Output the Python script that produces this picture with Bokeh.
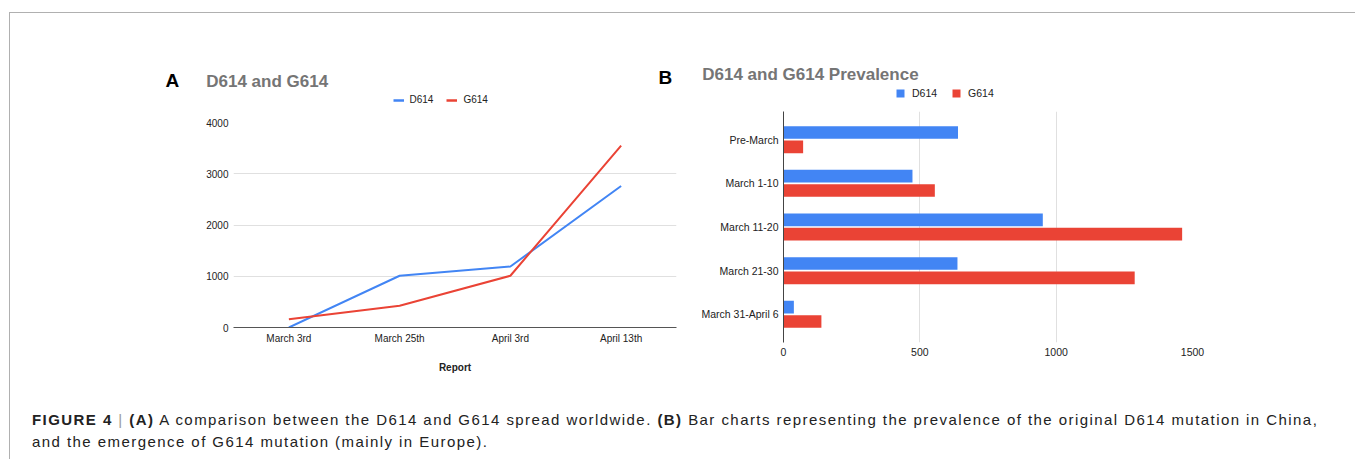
from bokeh.plotting import figure
from bokeh.models import (FactorRange, Range1d, FixedTicker, Legend, LegendItem,
                          Label, Div, ColumnDataSource)
from bokeh.layouts import column, row
from bokeh.transform import dodge
from bokeh.embed import file_html
from bokeh.resources import INLINE

# ---------------- data ----------------
reports = ["March 3rd", "March 25th", "April 3rd", "April 13th"]
d614_reports = [0, 1010, 1190, 2760]
g614_reports = [160, 425, 1010, 3550]

periods = ["Pre-March", "March 1-10", "March 11-20", "March 21-30", "March 31-April 6"]
d614_periods = [640, 473, 951, 638, 38]
g614_periods = [72, 555, 1462, 1288, 139]

series = ["D614", "G614"]
y_ticks_a = [0, 1000, 2000, 3000, 4000]
x_ticks_b = [0, 500, 1000, 1500]

BLUE = "#4285F4"
RED = "#EA4335"
FONT = "Liberation Sans"
GRID = "#e0e0e0"
LABEL = "#222222"
TITLE = "#757575"

WA, WB, HH, HC = 678, 666, 97, 288
WH = WA + WB

# ---------------- header (panel letters, titles, legends) ----------------
hd = figure(x_range=Range1d(0, WH), y_range=Range1d(0, HH), width=WH, height=HH,
            min_border=0, x_axis_location=None, y_axis_location=None, frame_align=False,
            output_backend="svg", toolbar_location=None, outline_line_color=None)
hd.xgrid.grid_line_color = None
hd.ygrid.grid_line_color = None


def label(x, y, text, size, color):
    hd.add_layout(Label(x=x, y=y, text=text, text_font=FONT, text_font_style="bold",
                        text_font_size=size, text_color=color, text_baseline="alphabetic"))


label(155, 30, "A", "19px", "#000000")
label(195.7, 29.3, "D614 and G614", "17px", TITLE)
label(648, 33, "B", "19px", "#000000")
label(691.7, 36, "D614 and G614 Prevalence", "17px", TITLE)

# legend proxies (hidden, only used for the legend swatches)
src_a = ColumnDataSource(dict(report=reports, d=d614_reports, g=g614_reports))
src_b = ColumnDataSource(dict(period=periods, d=d614_periods, g=g614_periods))
px_d = hd.line(x="d", y="g", source=src_a, color=BLUE, line_width=2.5, visible=False)
px_g = hd.line(x="d", y="g", source=src_a, color=RED, line_width=2.5, visible=False)
pq_d = hd.rect(x="d", y="g", width=1, height=1, source=src_b, fill_color=BLUE,
               line_color=None, visible=False)
pq_g = hd.rect(x="d", y="g", width=1, height=1, source=src_b, fill_color=RED,
               line_color=None, visible=False)

common = dict(orientation="horizontal", padding=0, margin=0, label_text_font=FONT,
              label_text_color=LABEL, border_line_color=None, background_fill_alpha=0)
hd.add_layout(Legend(items=[LegendItem(label=series[0], renderers=[px_d]),
                            LegendItem(label=series[1], renderers=[px_g])],
                     location=(382.5, 4.3), spacing=13, label_standoff=6, glyph_width=11,
                     glyph_height=12, label_height=12, label_text_font_size="10px", **common))
hd.add_layout(Legend(items=[LegendItem(label=series[0], renderers=[pq_d]),
                            LegendItem(label=series[1], renderers=[pq_g])],
                     location=(885, 10.7), spacing=14, label_standoff=7, glyph_width=10,
                     glyph_height=10, label_height=10, label_text_font_size="10.5px", **common))

# ---------------- chart A ----------------
pa = figure(x_range=FactorRange(factors=reports), y_range=Range1d(0, 4000),
            width=WA, height=HC, frame_width=443, frame_height=205, frame_align=False,
            min_border_left=223, min_border_right=12, min_border_top=12, min_border_bottom=71,
            output_backend="svg", toolbar_location=None, outline_line_color=None)
pa.line("report", "d", source=src_a, color=BLUE, line_width=2)
pa.line("report", "g", source=src_a, color=RED, line_width=2)

pa.yaxis.ticker = FixedTicker(ticks=y_ticks_a)
pa.ygrid.ticker = FixedTicker(ticks=y_ticks_a)
pa.yaxis.axis_line_color = None
pa.yaxis.major_tick_line_color = None
pa.yaxis.minor_tick_line_color = None
pa.yaxis.major_tick_out = 0
pa.yaxis.major_label_standoff = 5
pa.yaxis.major_label_text_font = FONT
pa.yaxis.major_label_text_font_size = "10px"
pa.yaxis.major_label_text_color = LABEL

pa.xaxis.axis_line_color = "#555555"
pa.xaxis.major_tick_line_color = None
pa.xaxis.major_tick_out = 0
pa.xaxis.major_label_standoff = 5
pa.xaxis.major_label_text_font = FONT
pa.xaxis.major_label_text_font_size = "10px"
pa.xaxis.major_label_text_color = LABEL
pa.xaxis.axis_label = "Report"
pa.xaxis.axis_label_text_font = FONT
pa.xaxis.axis_label_text_font_size = "10px"
pa.xaxis.axis_label_text_font_style = "bold"
pa.xaxis.axis_label_text_color = LABEL
pa.xaxis.axis_label_standoff = 15
pa.xgrid.grid_line_color = None
pa.ygrid.grid_line_color = GRID

# ---------------- chart B ----------------
pb = figure(x_range=Range1d(0, 1500),
            y_range=FactorRange(factors=periods[::-1], range_padding=0.146,
                                range_padding_units="absolute"),
            width=WB, height=HC, frame_width=409, frame_height=231, frame_align=False,
            min_border_left=95, min_border_right=162, min_border_top=1, min_border_bottom=56,
            output_backend="svg", toolbar_location=None, outline_line_color=None)
pb.hbar(y=dodge("period", 0.164, range=pb.y_range), left=0, right="d", height=0.29,
        source=src_b, fill_color=BLUE, line_color=None)
pb.hbar(y=dodge("period", -0.164, range=pb.y_range), left=0, right="g", height=0.29,
        source=src_b, fill_color=RED, line_color=None)

pb.xaxis.ticker = FixedTicker(ticks=x_ticks_b)
pb.xgrid.ticker = FixedTicker(ticks=x_ticks_b)
pb.xaxis.axis_line_color = None
pb.xaxis.major_tick_line_color = None
pb.xaxis.minor_tick_line_color = None
pb.xaxis.major_tick_out = 0
pb.xaxis.major_label_standoff = 5
pb.xaxis.major_label_text_font = FONT
pb.xaxis.major_label_text_font_size = "10.5px"
pb.xaxis.major_label_text_color = LABEL

pb.yaxis.axis_line_color = "#444444"
pb.yaxis.major_tick_line_color = None
pb.yaxis.major_tick_out = 0
pb.yaxis.major_label_standoff = 5
pb.yaxis.major_label_text_font = FONT
pb.yaxis.major_label_text_font_size = "10.5px"
pb.yaxis.major_label_text_color = LABEL
pb.ygrid.grid_line_color = None
pb.xgrid.grid_line_color = GRID

# ---------------- caption ----------------
caption_html = (
    '<div style="font-family: \'Liberation Sans\', Arial, sans-serif; font-size: 15px; '
    'line-height: 22px; padding-left: 17px; padding-top: 6px; color: #222; '
    'letter-spacing: 1.44px; white-space: nowrap;">'
    '<b>FIGURE 4</b> <span style="color:#999">|</span> <b>(A)</b> A comparison between the D614 and G614 '
    'spread worldwide. <b>(B)</b> Bar charts representing the prevalence of the original '
    'D614 mutation in China,<br>and the emergence of G614 mutation (mainly in Europe).</div>'
)
cap = Div(text=caption_html, width=WH, height=53)

layout = column(hd, row(pa, pb), cap,
                styles={"border-top": "1px solid #b0b0b0",
                        "border-left": "1px solid #b0b0b0",
                        "border-right": "1px solid #b0b0b0",
                        "margin-top": "12px", "margin-left": "9px"})

open("out.html", "w").write(file_html(layout, INLINE))
